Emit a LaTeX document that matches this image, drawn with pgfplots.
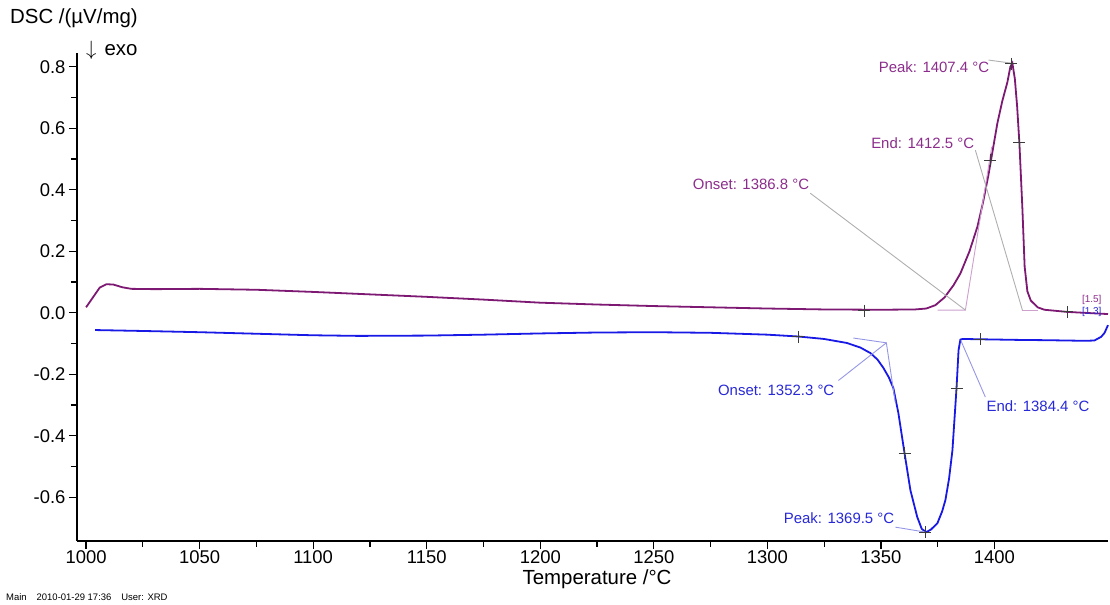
\documentclass[border=0pt]{standalone}
\usepackage{pgfplots}
\pgfplotsset{compat=1.18}
\usepackage{fontspec}
\setmainfont{Liberation Sans}

\definecolor{heat}{RGB}{125,25,115}
\definecolor{cool}{RGB}{25,25,230}
\definecolor{heattxt}{RGB}{140,45,140}
\definecolor{cooltxt}{RGB}{40,40,215}
\definecolor{heattan}{RGB}{205,160,205}
\definecolor{cooltan}{RGB}{150,150,230}
\definecolor{leader}{RGB}{175,175,175}
\definecolor{cross}{RGB}{60,60,60}

\begin{document}
\begin{tikzpicture}
\useasboundingbox (0,0) rectangle (1110bp,605bp);
\begin{axis}[
  at={(77bp,64bp)}, anchor=south west,
  scale only axis, width=1031bp, height=488bp,
  xmin=996, xmax=1450, ymin=-0.742, ymax=0.845,
  axis x line*=bottom, axis y line*=left,
  axis line style={line width=1.6bp, black},
  tick align=outside,
  major tick length=8bp, minor tick length=6bp,
  tick style={line width=1.2bp, black},
  xtick={1000,1050,...,1400}, minor x tick num=1,
  ytick={-0.6,-0.4,-0.2,0,0.2,0.4,0.6,0.8}, minor y tick num=1,
  ticklabel style={font=\fontsize{18.5}{21}\selectfont},
  /pgf/number format/assume math mode=true,
  xticklabel style={/pgf/number format/1000 sep={}, inner sep=1bp},
  yticklabel style={/pgf/number format/.cd, fixed, fixed zerofill, precision=1},
  clip=false,
]
% heating curve
\addplot[heat, line width=1.8bp] coordinates {
(1000,0.018) (1003,0.05) (1006,0.082) (1009,0.093) (1012,0.092) (1016,0.083)
(1020,0.078) (1030,0.077) (1050,0.078) (1075,0.075) (1100,0.068) (1125,0.060)
(1150,0.052) (1175,0.043) (1200,0.033) (1225,0.027) (1250,0.022) (1275,0.018)
(1300,0.014) (1325,0.011) (1350,0.010) (1365,0.011) (1370,0.014) (1374,0.025)
(1378,0.05) (1382,0.09) (1385,0.128) (1389,0.2) (1392.5,0.28) (1395,0.36)
(1397.4,0.45) (1399.5,0.54) (1401.3,0.617) (1403.5,0.69) (1405.7,0.75)
(1407,0.80) (1407.9,0.812) (1409,0.76) (1410,0.67) (1411,0.55) (1412.3,0.34)
(1413.3,0.15) (1414.5,0.07) (1416,0.04) (1419,0.018) (1422,0.01) (1432,0.003)
(1450,-0.004)
};
% cooling curve
\addplot[cool, line width=1.8bp] coordinates {
(1004,-0.056) (1025,-0.059) (1050,-0.063) (1075,-0.068) (1100,-0.073)
(1120,-0.075) (1150,-0.074) (1175,-0.071) (1200,-0.067) (1225,-0.064)
(1250,-0.063) (1275,-0.065) (1300,-0.071) (1313.7,-0.077) (1325,-0.085)
(1335,-0.098) (1341,-0.113) (1345.4,-0.131) (1348.5,-0.152) (1351,-0.178)
(1353.5,-0.21) (1355.5,-0.245) (1357.7,-0.326) (1360.4,-0.456) (1363,-0.577)
(1366,-0.664) (1368,-0.703) (1370,-0.713) (1372,-0.705) (1374.9,-0.684)
(1377,-0.645) (1378.4,-0.609) (1380,-0.54) (1381.5,-0.447) (1383.3,-0.245)
(1384.2,-0.121) (1385,-0.087) (1386,-0.085) (1393.8,-0.086) (1410,-0.088)
(1423,-0.089) (1440,-0.091) (1444,-0.09) (1447,-0.078) (1448.5,-0.065)
(1450,-0.04)
};
% onset / end construction lines, heating
\addplot[heattan, line width=0.9bp] coordinates {(1375,0.009) (1387.2,0.009) (1398.8,0.54)};
\addplot[heattan, line width=0.9bp] coordinates {(1412.3,0.009) (1419,0.009)};
\addplot[leader, line width=0.9bp] coordinates {(1318.9,0.389) (1387.2,0.009)};
\addplot[leader, line width=0.9bp] coordinates {(1391.6,0.529) (1412.3,0.009)};
\addplot[leader, line width=0.9bp] coordinates {(1397.4,0.822) (1407.4,0.812)};
% onset / end construction lines, cooling
\addplot[cooltan, line width=0.9bp] coordinates {(1337.9,-0.082) (1352.4,-0.0975) (1356.3,-0.29)};
\addplot[cooltan, line width=0.9bp] coordinates {(1331.3,-0.22) (1352.4,-0.0975)};
\addplot[cooltan, line width=0.9bp] coordinates {(1396,-0.274) (1385.2,-0.09)};
\addplot[cooltan, line width=0.9bp] coordinates {(1356.4,-0.697) (1369.5,-0.713)};
% evaluation markers
\addplot[only marks, mark=+, mark size=6bp, cross, mark options={line width=1bp}] coordinates {
(1342.7,0.007) (1398.2,0.496) (1407.4,0.81) (1411,0.555) (1432,0.003)};
\addplot[only marks, mark=+, mark size=6bp, cross, mark options={line width=1bp}] coordinates {
(1313.7,-0.078) (1360.4,-0.456) (1369.5,-0.713) (1383.3,-0.245) (1393.8,-0.086)};
% result labels
\begin{scope}[every node/.style={font=\fontsize{15}{18}\selectfont, inner sep=1bp}]
\node[heattxt, anchor=east] at (axis cs:1398.2,0.799) {Peak: 1407.4 °C};
\node[heattxt, anchor=east] at (axis cs:1391.6,0.552) {End: 1412.5 °C};
\node[heattxt, anchor=east] at (axis cs:1318.9,0.418) {Onset: 1386.8 °C};
\node[cooltxt, anchor=east] at (axis cs:1330,-0.251) {Onset: 1352.3 °C};
\node[cooltxt, anchor=west] at (axis cs:1396,-0.303) {End: 1384.4 °C};
\node[cooltxt, anchor=east] at (axis cs:1356.4,-0.667) {Peak: 1369.5 °C};
\end{scope}
\node[heattxt, anchor=west, font=\fontsize{10}{11}\selectfont, inner sep=0pt] at (axis cs:1438.5,0.041) {[1.5]};
\node[cooltxt, anchor=west, font=\fontsize{10}{11}\selectfont, inner sep=0pt] at (axis cs:1438.5,0.003) {[1.3]};
\end{axis}
\node[anchor=west, font=\fontsize{20.5}{24}\selectfont, inner sep=0pt] at (10bp,587bp) {DSC /(µV/mg)};
\node[anchor=west, font=\fontsize{20.5}{24}\selectfont, inner sep=0pt] at (86bp,555bp) {$\downarrow$\hspace{8bp}exo};
\node[font=\fontsize{20.5}{24}\selectfont, inner sep=0pt] at (597bp,26bp) {Temperature /°C};
\node[anchor=west, font=\fontsize{9.5}{11}\selectfont, inner sep=0pt] at (6bp,8bp) {Main\hspace{10bp}2010-01-29 17:36\hspace{10bp}User: XRD};
\end{tikzpicture}
\end{document}
